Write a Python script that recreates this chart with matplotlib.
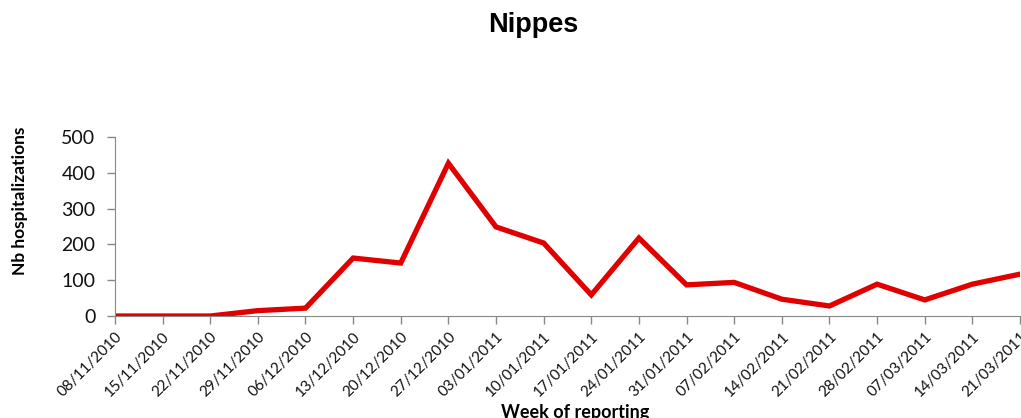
import numpy as np
import matplotlib.pyplot as plt

# données
semaines = ['08/11/2010', '15/11/2010', '22/11/2010', '29/11/2010', '06/12/2010',
            '13/12/2010', '20/12/2010', '27/12/2010', '03/01/2011', '10/01/2011',
            '17/01/2011', '24/01/2011', '31/01/2011', '07/02/2011', '14/02/2011',
            '21/02/2011', '28/02/2011', '07/03/2011', '14/03/2011', '21/03/2011']
hospitalisations = [0, 0, 0, 15, 22, 162, 148, 427, 249, 204,
                    59, 218, 87, 94, 47, 28, 89, 45, 89, 117]

fig = plt.figure(figsize=(10.21, 4.18), dpi=100)
ax = fig.add_axes([0.1126, 0.244, 0.8864, 0.428])

x = np.arange(len(semaines))
ax.plot(x, hospitalisations, color='#e00000', linewidth=3.8, solid_joinstyle='miter')

ax.set_xlim(0, len(semaines) - 1)
ax.set_ylim(0, 500)
ax.set_yticks(range(0, 501, 100))
ax.set_xticks(x)
ax.set_xticklabels(semaines, rotation=45, ha='right', rotation_mode='anchor',
                   fontsize=11, family='Lato')
for lab in ax.get_yticklabels():
    lab.set_fontsize(14)
    lab.set_family('Lato')

for s in ['top', 'right']:
    ax.spines[s].set_visible(False)
for s in ['left', 'bottom']:
    ax.spines[s].set_color('#888888')
ax.tick_params(axis='both', colors='#888888', labelcolor='#111111', length=6, width=1)
ax.tick_params(axis='y', pad=8)

fig.text(0.02, 0.52, 'Nb hospitalizations', rotation=90, ha='center', va='center',
         fontsize=12.5, fontweight='bold', family='Lato')
fig.text(0.563, 0.012, 'Week of reporting', ha='center', va='center',
         fontsize=13, fontweight='bold', family='Lato')

fig.text(0.522, 0.94, 'Nippes', ha='center', va='center', fontsize=19.5,
         fontweight='bold', family='Liberation Sans')

fig.savefig('out.png', dpi=100)
